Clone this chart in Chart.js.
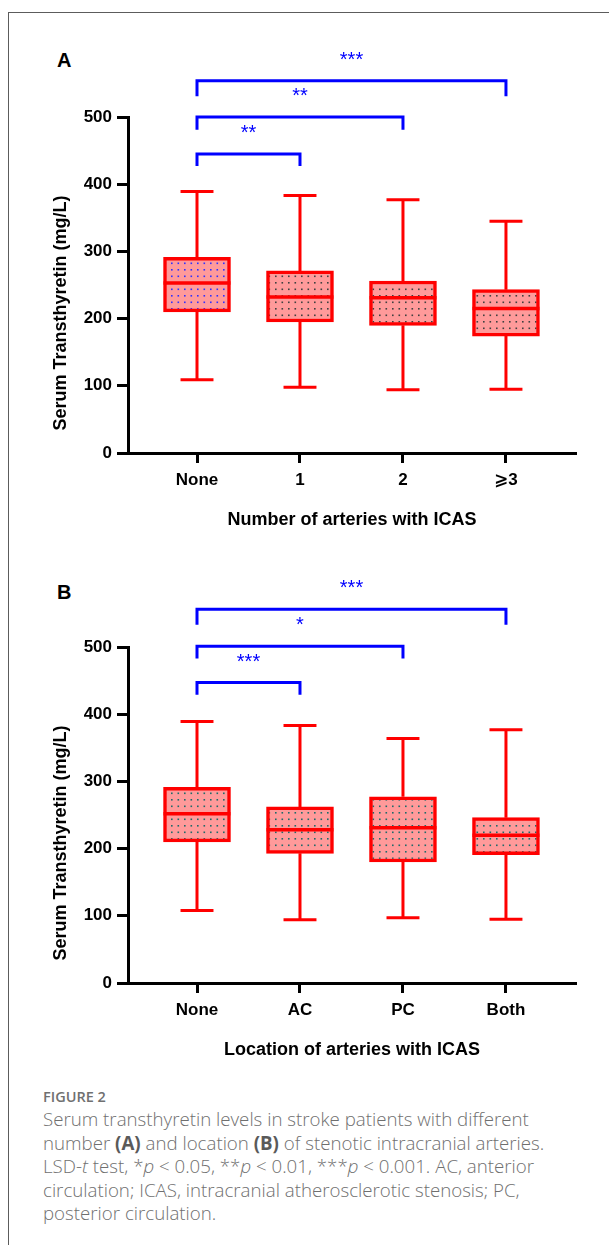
<!DOCTYPE html>
<html>
<head>
<meta charset="utf-8">
<script src="https://cdn.jsdelivr.net/npm/chart.js@4.4.1/dist/chart.umd.min.js"></script>
<style>
  html, body { margin: 0; padding: 0; background: #fff; width: 609px; height: 1245px; overflow: hidden; }
  #frame { position: absolute; left: 8px; top: 12px; width: 700px; height: 1300px; border: 1px solid #5c5c5c; box-sizing: border-box; }
  canvas { position: absolute; left: 0; }
  .panel { position: absolute; left: 57px; font: bold 20px 'Liberation Sans', Arial, sans-serif; line-height: 20px; color: #000; }
  #figno { position: absolute; left: 43px; top: 1087px; font: 600 14.5px 'Open Sans', sans-serif; line-height: 20px; color: #707070; }
  #caption { position: absolute; left: 43px; top: 1107px; font: 300 18.7px 'Open Sans', sans-serif; line-height: 23.6px; color: #6f6f6f; white-space: nowrap; }
  #caption b { color: #5a5a5a; font-weight: 700; }
</style>
</head>
<body>
<div id="frame"></div>
<div class="panel" style="top:50px">A</div>
<canvas id="chartA" width="609" height="530" style="top:20px"></canvas>
<div class="panel" style="top:582px">B</div>
<canvas id="chartB" width="609" height="530" style="top:550px"></canvas>
<div id="figno">FIGURE 2</div>
<div id="caption">Serum transthyretin levels in stroke patients with different<br>number <b>(A)</b> and location <b>(B)</b> of stenotic intracranial arteries.<br>LSD-<i>t</i> test, *<i>p</i> &lt; 0.05, **<i>p</i> &lt; 0.01, ***<i>p</i> &lt; 0.001. AC, anterior<br>circulation; ICAS, intracranial atherosclerotic stenosis; PC,<br>posterior circulation.</div>

<script>
// panel A - number of arteries with ICAS
const groupsA = ['None', '1', '2', '\u2A7E3'];
const maxA = [389, 383, 377, 345];
const q3A  = [291, 271, 256, 243];
const medA = [253, 232, 231, 215];
const q1A  = [210, 195, 190, 174];
const minA = [109, 98, 94, 95];
const pairsA  = [[0, 1], [0, 2], [0, 3]];
const brTopA  = [445, 500, 554];
const brLegA  = [427, 481, 531];
const starsA  = ['**', '**', '***'];

// panel B - location of arteries with ICAS
const groupsB = ['None', 'AC', 'PC', 'Both'];
const maxB = [389, 383, 364, 377];
const q3B  = [291, 262, 277, 246];
const medB = [252, 228, 231, 220];
const q1B  = [210, 193, 180, 191];
const minB = [108, 94, 97, 95];
const pairsB  = [[0, 1], [0, 2], [0, 3]];
const brTopB  = [447, 501, 556];
const brLegB  = [429, 483, 533];
const starsB  = ['***', '*', '***'];

const yTicks = [0, 100, 200, 300, 400, 500];

const FONT = "'Liberation Sans', Arial, 'DejaVu Sans', sans-serif";
const RED = '#ff0000';
const BLUE = '#0000ff';
const BOX_HALF = 0.325;   // half box width in category units
const CAP_HALF = 0.16;

function dotPattern(dotColor){
  const c = document.createElement('canvas');
  c.width = 13; c.height = 13;
  const g = c.getContext('2d');
  g.fillStyle = '#ff9a9a';
  g.fillRect(0, 0, 13, 13);
  g.fillStyle = dotColor;
  [[2, 2], [8.5, 2], [2, 8.5], [8.5, 8.5]].forEach(([px, py]) => g.fillRect(px, py, 1.6, 1.6));
  return g.createPattern(c, 'repeat');
}

const textPlugin = {
  id: 'texts',
  afterDraw(chart, args, o){
    const {ctx, chartArea, scales: {x, y}} = chart;
    ctx.save();
    ctx.fillStyle = '#000';
    ctx.font = 'bold 18px ' + FONT;
    ctx.textAlign = 'center';
    ctx.textBaseline = 'middle';
    ctx.fillText(o.xTitle, (chartArea.left + chartArea.right) / 2, chartArea.bottom + 67);
    ctx.translate(61, (chartArea.top + chartArea.bottom) / 2 + 28);
    ctx.rotate(-Math.PI / 2);
    ctx.fillText(o.yTitle, 0, 0);
    ctx.restore();

    ctx.save();
    ctx.fillStyle = BLUE;
    ctx.font = '20px ' + FONT;
    ctx.textAlign = 'center';
    ctx.textBaseline = 'alphabetic';
    o.pairs.forEach(([a, b], k) => {
      const cx = (x.getPixelForValue(a) + x.getPixelForValue(b)) / 2;
      ctx.fillText(o.stars[k], cx, y.getPixelForValue(o.tops[k]) - 15);
    });
    ctx.restore();
  }
};

function makeChart(id, groups, mins, q1s, meds, q3s, maxs, dotColors, pairs, tops, legs, stars, xTitle){
  const whisk = [], caps = [], medians = [], brackets = [];
  groups.forEach((g, i) => {
    whisk.push({x: i, y: q3s[i]}, {x: i, y: maxs[i]}, {x: i, y: null},
               {x: i, y: q1s[i]}, {x: i, y: mins[i]}, {x: i, y: null});
    caps.push({x: i - CAP_HALF, y: maxs[i]}, {x: i + CAP_HALF, y: maxs[i]}, {x: i, y: null},
              {x: i - CAP_HALF, y: mins[i]}, {x: i + CAP_HALF, y: mins[i]}, {x: i, y: null});
    medians.push({x: i - BOX_HALF, y: meds[i]}, {x: i + BOX_HALF, y: meds[i]}, {x: i, y: null});
  });
  pairs.forEach(([a, b], k) => {
    brackets.push({x: a, y: legs[k]}, {x: a, y: tops[k]}, {x: b, y: tops[k]}, {x: b, y: legs[k]}, {x: b, y: null});
  });
  const lineDs = (data, color, width, order) => ({
    type: 'line', data, borderColor: color, borderWidth: width, pointRadius: 0,
    spanGaps: false, tension: 0, fill: false, clip: false, order,
    borderCapStyle: 'butt', borderJoinStyle: 'miter'
  });

  return new Chart(document.getElementById(id), {
    type: 'bar',
    data: {
      datasets: [
        lineDs(medians, RED, 3.5, 0),
        {
          type: 'bar',
          data: groups.map((g, i) => ({x: i, y: [q1s[i], q3s[i]]})),
          backgroundColor: dotColors.map(dotPattern),
          borderColor: RED, borderWidth: 3.5, borderSkipped: false,
          barThickness: 67, order: 1
        },
        lineDs(whisk, RED, 3, 2),
        lineDs(caps, RED, 3, 2),
        lineDs(brackets, BLUE, 3, 3)
      ]
    },
    options: {
      responsive: false,
      animation: false,
      devicePixelRatio: 1,
      layout: {padding: {top: 97, right: 33, left: 0, bottom: 0}},
      plugins: {
        legend: {display: false},
        tooltip: {enabled: false},
        texts: {xTitle, yTitle: 'Serum Transthyretin (mg/L)', pairs, tops, stars}
      },
      scales: {
        x: {
          type: 'linear', min: -0.67, max: 3.68, offset: false,
          afterBuildTicks: s => { s.ticks = groups.map((g, i) => ({value: i})); },
          afterFit: s => { s.height = 97; },
          ticks: {
            callback: (v, i) => groups[i], color: '#000', padding: 7,
            font: {family: FONT, size: 17, weight: 'bold'}, maxRotation: 0, autoSkip: false
          },
          grid: {offset: false, drawOnChartArea: false, drawTicks: true, tickLength: 10, tickWidth: 3, tickColor: '#000'},
          border: {display: true, color: '#000', width: 3}
        },
        y: {
          min: 0, max: 500,
          afterBuildTicks: s => { s.ticks = yTicks.map(v => ({value: v})); },
          afterFit: s => { s.width = 128; },
          ticks: {color: '#000', padding: 5, font: {family: FONT, size: 17, weight: 'bold'}},
          grid: {drawOnChartArea: false, drawTicks: true, tickLength: 11, tickWidth: 3, tickColor: '#000'},
          border: {display: true, color: '#000', width: 3}
        }
      }
    },
    plugins: [textPlugin]
  });
}

makeChart('chartA', groupsA, minA, q1A, medA, q3A, maxA,
  ['#3030ff', '#404040', '#404040', '#404040'],
  pairsA, brTopA, brLegA, starsA, 'Number of arteries with ICAS');
makeChart('chartB', groupsB, minB, q1B, medB, q3B, maxB,
  ['#1f6a6a', '#1f6a6a', '#1f6a6a', '#1f6a6a'],
  pairsB, brTopB, brLegB, starsB, 'Location of arteries with ICAS');
</script>
</body>
</html>
